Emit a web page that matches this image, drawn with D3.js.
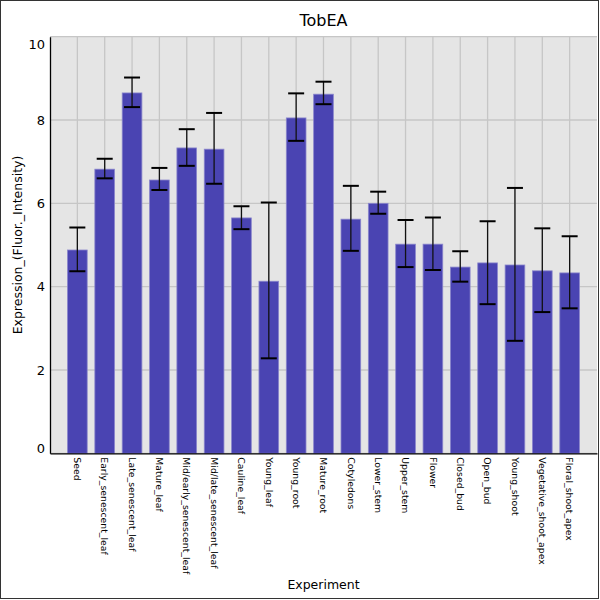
<!DOCTYPE html>
<html>
<head>
<meta charset="utf-8">
<script src="https://cdn.jsdelivr.net/npm/d3@7"></script>
<style>
  body { margin: 0; background: #fff; }
  text { font-family: "DejaVu Sans", sans-serif; }
</style>
</head>
<body>
<script>
const categories = ["Seed", "Early_senescent_leaf", "Late_senescent_leaf", "Mature_leaf",
  "Mid/early_senescent_leaf", "Mid/late_senescent_leaf", "Cauline_leaf", "Young_leaf",
  "Young_root", "Mature_root", "Cotyledons", "Lower_stem", "Upper_stem", "Flower",
  "Closed_bud", "Open_bud", "Young_shoot", "Vegetative_shoot_apex", "Floral_shoot_apex"];
const values = [4.88, 6.82, 8.65, 6.56, 7.33, 7.30, 5.65, 4.13, 8.05, 8.62,
  5.62, 6.00, 5.02, 5.02, 4.47, 4.57, 4.52, 4.38, 4.33];
const errHigh = [5.42, 7.07, 9.02, 6.85, 7.78, 8.17, 5.93, 6.02, 8.64, 8.92,
  6.42, 6.28, 5.60, 5.66, 4.85, 5.57, 6.37, 5.40, 5.21];
const errLow = [4.37, 6.60, 8.31, 6.32, 6.90, 6.47, 5.38, 2.28, 7.50, 8.38,
  4.86, 5.75, 4.47, 4.40, 4.12, 3.58, 2.70, 3.39, 3.48];
const yTicks = [0, 2, 4, 6, 8, 10];

const data = categories.map((c, i) => ({ name: c, v: values[i], hi: errHigh[i], lo: errLow[i] }));

const W = 600, H = 600;
const margin = { top: 36.7, right: 3, bottom: 146.7, left: 50 };
const width = W - margin.left - margin.right;
const height = H - margin.top - margin.bottom;

const root = d3.select("body").append("svg")
  .attr("width", W).attr("height", H);

// figure border
root.append("rect")
  .attr("x", 0.5).attr("y", 0.5).attr("width", W - 2).attr("height", H - 2)
  .attr("fill", "#fff").attr("stroke", "#333").attr("stroke-width", 1);

const svg = root.append("g")
  .attr("transform", "translate(" + margin.left + "," + margin.top + ")");

const x = d3.scaleBand().domain(categories).range([0, width])
  .paddingInner(0.28).paddingOuter(0.64);
const y = d3.scaleLinear().domain([0, 10]).range([height, 0]);

svg.append("rect")
  .attr("width", width).attr("height", height).attr("fill", "#e5e5e5");

// grid
svg.append("g")
  .selectAll("line").data(yTicks).enter().append("line")
  .attr("x1", 0).attr("x2", width)
  .attr("y1", d => y(d)).attr("y2", d => y(d))
  .attr("stroke", "#c6c6c6").attr("stroke-width", 1.3);
svg.append("g")
  .selectAll("line").data(categories).enter().append("line")
  .attr("x1", d => x(d) + x.bandwidth() / 2).attr("x2", d => x(d) + x.bandwidth() / 2)
  .attr("y1", 0).attr("y2", height)
  .attr("stroke", "#c6c6c6").attr("stroke-width", 1.3);

// bars
svg.selectAll(".bar").data(data).enter().append("rect")
  .attr("class", "bar")
  .attr("x", d => x(d.name))
  .attr("y", d => y(d.v))
  .attr("width", x.bandwidth())
  .attr("height", d => height - y(d.v))
  .attr("fill", "#4a44b2")
  .attr("stroke", "#8a86cc").attr("stroke-width", 0.8);

// error bars
const eb = svg.selectAll(".err").data(data).enter().append("g").attr("class", "err");
eb.append("line")
  .attr("x1", d => x(d.name) + x.bandwidth() / 2).attr("x2", d => x(d.name) + x.bandwidth() / 2)
  .attr("y1", d => y(d.hi)).attr("y2", d => y(d.lo))
  .attr("stroke", "#111").attr("stroke-width", 1.3);
eb.selectAll(".cap").data(d => [[d.name, d.hi], [d.name, d.lo]]).enter().append("line")
  .attr("x1", d => x(d[0]) + x.bandwidth() / 2 - 8).attr("x2", d => x(d[0]) + x.bandwidth() / 2 + 8)
  .attr("y1", d => y(d[1])).attr("y2", d => y(d[1]))
  .attr("stroke", "#000").attr("stroke-width", 2);

// y axis
const yAxis = svg.append("g")
  .call(d3.axisLeft(y).tickValues(yTicks).tickSize(0).tickPadding(5));
yAxis.select(".domain").attr("stroke", "#000").attr("stroke-width", 1.3);
yAxis.selectAll("text").attr("font-size", 13).attr("fill", "#000")
  .attr("dy", d => d === 10 ? "0.9em" : d === 0 ? "-0.1em" : "0.32em");

// x axis
const xAxis = svg.append("g")
  .attr("transform", "translate(0," + height + ")")
  .call(d3.axisBottom(x).tickSize(0).tickPadding(0));
xAxis.select(".domain").attr("stroke", "#000").attr("stroke-width", 1.3);
xAxis.selectAll("text")
  .attr("font-size", 9.3).attr("fill", "#000")
  .attr("text-anchor", "start")
  .attr("transform", "rotate(90)")
  .attr("x", 4).attr("y", 0).attr("dy", "0.35em");

// title and labels
root.append("text")
  .attr("x", margin.left + width / 2).attr("y", 26)
  .attr("text-anchor", "middle").attr("font-size", 16)
  .text("TobEA");
root.append("text")
  .attr("x", margin.left + width / 2).attr("y", 589)
  .attr("text-anchor", "middle").attr("font-size", 12.5)
  .text("Experiment");
root.append("text")
  .attr("transform", "translate(22," + (margin.top + height / 2) + ") rotate(-90)")
  .attr("text-anchor", "middle").attr("font-size", 12.5)
  .text("Expression_(Fluor._Intensity)");
</script>
</body>
</html>
